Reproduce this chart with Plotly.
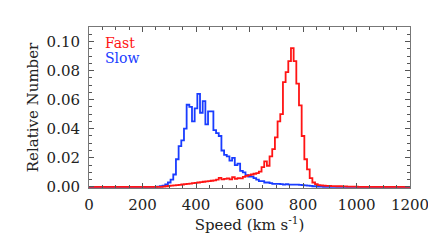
import plotly.graph_objects as go

# Bin centres (km/s) and relative numbers
slow_start = 260
slow_values = [0.0002, 0.0004, 0.0009, 0.0016, 0.003, 0.005, 0.0085, 0.019, 0.028, 0.032,
               0.040, 0.0565, 0.055, 0.045, 0.054, 0.064, 0.051, 0.059, 0.043, 0.052,
               0.052, 0.039, 0.037, 0.035, 0.025, 0.022, 0.021, 0.018, 0.020, 0.015,
               0.016, 0.011, 0.010, 0.008, 0.007, 0.007, 0.006, 0.005, 0.004, 0.004,
               0.003, 0.003, 0.0025, 0.002, 0.002, 0.002, 0.0018, 0.0015, 0.0018, 0.0015,
               0.0015, 0.0015, 0.0015, 0.0013, 0.0012, 0.001, 0.0008, 0.0006, 0.0004, 0.0003,
               0.0002, 0.0001]

fast_start = 280
fast_values = [0.0002, 0.0004, 0.0006, 0.0008, 0.001, 0.0012, 0.0014, 0.0016, 0.0018, 0.002,
               0.0022, 0.0025, 0.0027, 0.003, 0.0032, 0.0035, 0.0037, 0.004, 0.0042, 0.0045,
               0.005, 0.0062, 0.0052, 0.0055, 0.0058, 0.0052, 0.0066, 0.0055, 0.006, 0.0058,
               0.0068, 0.0075, 0.008, 0.0085, 0.009, 0.0095, 0.0105, 0.0135, 0.0175, 0.0145,
               0.021, 0.026, 0.034, 0.045, 0.050, 0.072, 0.079, 0.0865, 0.0955, 0.0865,
               0.071, 0.056, 0.035, 0.019, 0.012, 0.006, 0.003, 0.0018, 0.0012, 0.001,
               0.0008, 0.0007, 0.0006, 0.0005, 0.0005, 0.0004, 0.0004, 0.0003, 0.0003, 0.0002,
               0.0002, 0.0001, 0.0001]

bin_width = 10
x_max = 1200
x_ticks = [0, 200, 400, 600, 800, 1000, 1200]
y_ticks = [0.00, 0.02, 0.04, 0.06, 0.08, 0.10]

centres = list(range(0, x_max + bin_width, bin_width))


def full_series(start, vals):
    out = []
    for c in centres:
        i = (c - start) // bin_width
        out.append(vals[i] if 0 <= i < len(vals) else 0.0)
    return out


slow_full = full_series(slow_start, slow_values)
fast_full = full_series(fast_start, fast_values)

RED = "rgb(255,20,20)"
BLUE = "rgb(25,60,255)"
FONT = "DejaVu Serif"
FS = 15

fig = go.Figure()
fig.add_trace(go.Scatter(x=centres, y=slow_full, mode="lines", line_shape="hvh",
                         line=dict(color=BLUE, width=1.8), name="Slow"))
fig.add_trace(go.Scatter(x=centres, y=fast_full, mode="lines", line_shape="hvh",
                         line=dict(color=RED, width=1.8), name="Fast"))

axis_common = dict(showline=True, mirror="ticks", linecolor="#777", linewidth=1,
                   ticks="inside", tickcolor="#555", ticklen=5, tickwidth=1,
                   showgrid=False, zeroline=False, automargin=False,
                   tickfont=dict(family=FONT, size=FS, color="#222"))

fig.update_xaxes(range=[0, x_max], tickvals=x_ticks,
                 minor=dict(dtick=50, ticks="inside", ticklen=3, tickcolor="#555"),
                 title=dict(text="Speed (km s<sup>-1</sup>)", standoff=2,
                            font=dict(family=FONT, size=FS, color="#222")),
                 ticklabelstandoff=3,
                 **axis_common)
fig.update_yaxes(range=[-0.0008, 0.11], tickvals=y_ticks, tickformat=".2f",
                 minor=dict(dtick=0.005, ticks="inside", ticklen=3, tickcolor="#555"),
                 title=dict(text="Relative Number", standoff=4,
                            font=dict(family=FONT, size=FS, color="#222")),
                 ticklabelstandoff=5,
                 **axis_common)

fig.add_annotation(x=0.044, y=0.899, xref="paper", yref="paper", text="Fast",
                   showarrow=False, xanchor="left", yanchor="middle",
                   font=dict(family=FONT, size=14, color=RED))
fig.add_annotation(x=0.044, y=0.806, xref="paper", yref="paper", text="Slow",
                   showarrow=False, xanchor="left", yanchor="middle",
                   font=dict(family=FONT, size=14, color=BLUE))

# page body has an 8px margin: offset the margins so the frame lands where the reference's does
fig.update_layout(width=436, height=244, margin=dict(l=81, r=34, t=19, b=64),
                  paper_bgcolor="white", plot_bgcolor="white", showlegend=False)

fig.write_html("out.html")
